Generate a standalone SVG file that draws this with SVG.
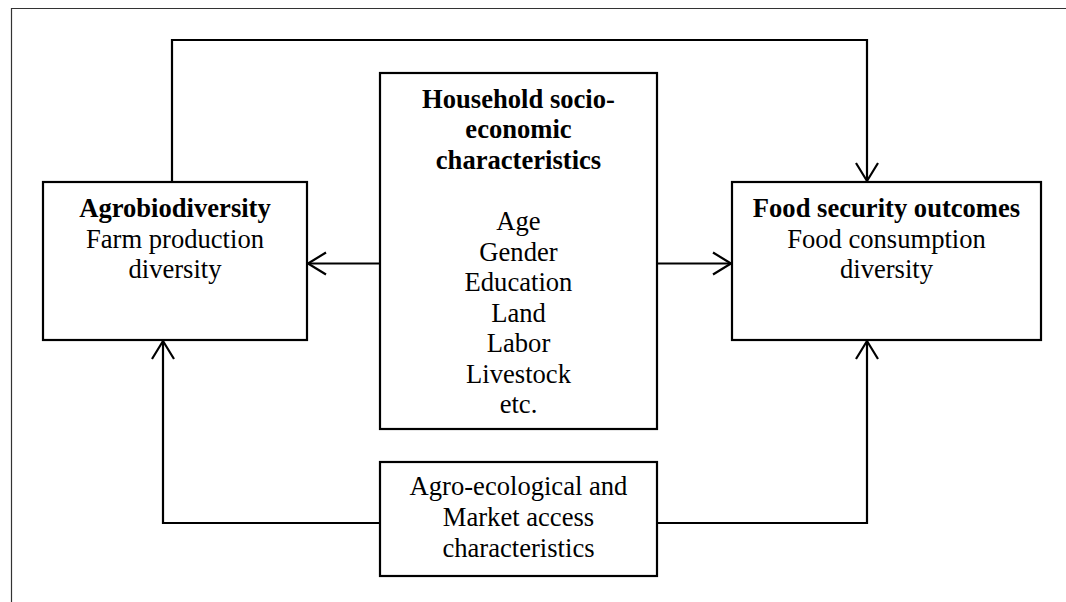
<svg xmlns="http://www.w3.org/2000/svg" width="1066" height="602" viewBox="0 0 1066 602">
<style>
.box{fill:#fff;stroke:#000;stroke-width:2.2}
.con{fill:none;stroke:#000;stroke-width:2.2}
.frame{fill:none;stroke:#333;stroke-width:1.2}
text{font-family:"Liberation Serif","Times New Roman",serif;font-size:26.6px;fill:#000;text-anchor:middle}
.b{font-weight:bold}
</style>
<defs>
<marker id="arr" markerUnits="userSpaceOnUse" markerWidth="40" markerHeight="40" viewBox="-20 -20 40 40" refX="0" refY="0" orient="auto">
<path d="M-18,-11 L0,0 L-18,11" fill="none" stroke="#000" stroke-width="2.2"/>
</marker>
</defs>
<g id="frame">
<path class="frame" d="M11.5,602 V8.5 H1066"/>
</g>
<g id="connectors">
<path class="con" d="M172,182 V40 H867 V181" marker-end="url(#arr)"/>
<path class="con" d="M380,263.5 H308" marker-end="url(#arr)"/>
<path class="con" d="M657,263.5 H731" marker-end="url(#arr)"/>
<path class="con" d="M380,523 H163 V341" marker-end="url(#arr)"/>
<path class="con" d="M657,523 H867 V341" marker-end="url(#arr)"/>
</g>
<g id="agrobiodiversity">
<rect class="box" x="43" y="182" width="264" height="158"/>
<text x="175" y="217" class="b">Agrobiodiversity</text>
<text x="175" y="247.5">Farm production</text>
<text x="175" y="278">diversity</text>
</g>
<g id="household">
<rect class="box" x="380" y="73" width="277" height="356"/>
<text x="518.5" y="107.5" class="b">Household socio-</text>
<text x="518.5" y="138" class="b">economic</text>
<text x="518.5" y="168.5" class="b">characteristics</text>
<text x="518.5" y="230">Age</text>
<text x="518.5" y="260.5">Gender</text>
<text x="518.5" y="291">Education</text>
<text x="518.5" y="321.5">Land</text>
<text x="518.5" y="352">Labor</text>
<text x="518.5" y="382.5">Livestock</text>
<text x="518.5" y="413">etc.</text>
</g>
<g id="food-security">
<rect class="box" x="732" y="182" width="309" height="158"/>
<text x="886.5" y="217" class="b">Food security outcomes</text>
<text x="886.5" y="247.5">Food consumption</text>
<text x="886.5" y="278">diversity</text>
</g>
<g id="agro-ecological">
<rect class="box" x="380" y="462" width="277" height="114"/>
<text x="518.5" y="495">Agro-ecological and</text>
<text x="518.5" y="526">Market access</text>
<text x="518.5" y="557">characteristics</text>
</g>
</svg>
